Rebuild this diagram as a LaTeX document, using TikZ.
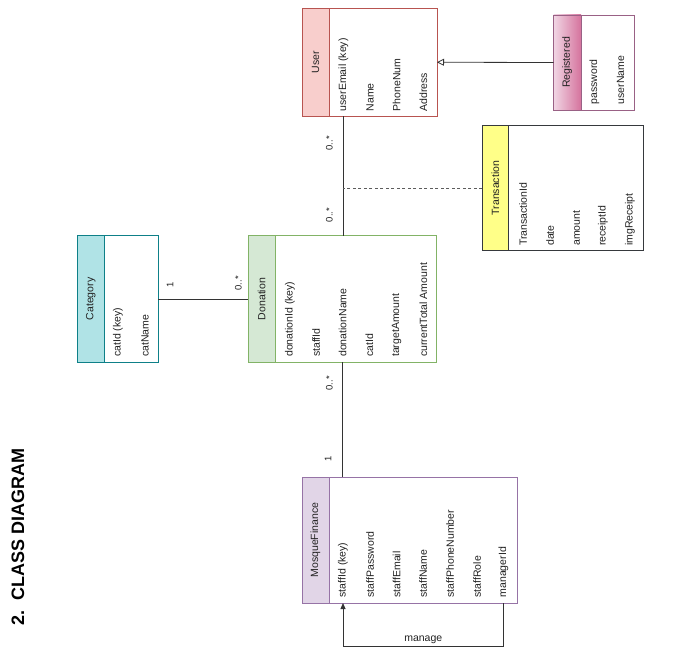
\documentclass[tikz,border=0pt]{standalone}
\usepackage{fontspec}
\setmainfont{Liberation Sans}
\usetikzlibrary{arrows.meta}
\definecolor{uF}{HTML}{F8CECC}\definecolor{uD}{HTML}{B85450}
\definecolor{rL}{HTML}{F0D6E4}\definecolor{rR}{HTML}{D5739D}\definecolor{rD}{HTML}{996185}
\definecolor{tF}{HTML}{FFFF88}\definecolor{tD}{HTML}{36393D}
\definecolor{dF}{HTML}{D5E8D4}\definecolor{dD}{HTML}{82B366}
\definecolor{cF}{HTML}{B0E3E6}\definecolor{cD}{HTML}{0E8088}
\definecolor{mF}{HTML}{E1D5E7}\definecolor{mD}{HTML}{9673A6}
\definecolor{txt}{HTML}{222222}
\definecolor{ln}{HTML}{333333}
\begin{document}
\begin{tikzpicture}[x=1pt,y=-1pt,
  every node/.style={font=\fontsize{10.5}{12}\selectfont, text=txt},
  cls/.style={draw, fill=white, line width=0.8pt, inner sep=0pt, outer sep=0pt, rectangle},
  hdr/.style={draw, line width=0.8pt, inner sep=0pt, outer sep=0pt, rectangle},
  htext/.style={rotate=90, inner sep=0pt},
  attr/.style={rotate=90, anchor=west, inner sep=0pt},
  mult/.style={rotate=90, inner sep=0pt, font=\fontsize{9.5}{11}\selectfont},
  conn/.style={draw=ln, line width=0.8pt}
]
\useasboundingbox (0,0) rectangle (678,661);

% Title
\node[rotate=90, inner sep=0pt, font=\bfseries\fontsize{18}{21}\selectfont, text=black] (title) at (18,537) {2.\hspace{0.6em}CLASS DIAGRAM};

% User
\node[cls, draw=uD, minimum width=135pt, minimum height=108.5pt] (user) at (369.5,62.25) {};
\node[hdr, draw=uD, fill=uF, minimum width=27pt, minimum height=108.5pt] (userH) at (315.5,62.25) {};
\node[htext] (userT) at (userH) {User};
\node[attr] (u1) at (343.3,111.5) {userEmail (key)};
\node[attr] (u2) at (370,111.5) {Name};
\node[attr] (u3) at (396.7,111.5) {PhoneNum};
\node[attr] (u4) at (423.3,111.5) {Address};

% Registered
\node[cls, draw=rD, minimum width=81pt, minimum height=95pt] (reg) at (594,62.5) {};
\node[hdr, draw=rD, left color=rL, right color=rR, minimum width=27.5pt, minimum height=95pt] (regH) at (567.25,62.5) {};
\node[htext] (regT) at (regH) {Registered};
\node[attr] (r1) at (594.5,104.5) {password};
\node[attr] (r2) at (620.5,104.5) {userName};

% Transaction
\node[cls, draw=tD, minimum width=161.5pt, minimum height=125.2pt] (trans) at (562.75,188.1) {};
\node[hdr, draw=tD, fill=tF, minimum width=26.5pt, minimum height=125.2pt] (transH) at (495.25,188.1) {};
\node[htext] (transT) at (transH) {Transaction};
\node[attr] (t1) at (523,246) {TransactionId};
\node[attr] (t2) at (550,246) {date};
\node[attr] (t3) at (576.5,246) {amount};
\node[attr] (t4) at (603,246) {receiptId};
\node[attr] (t5) at (630,246) {imgReceipt};

% Category
\node[cls, draw=cD, minimum width=80.8pt, minimum height=126.6pt] (cat) at (117.9,299) {};
\node[hdr, draw=cD, fill=cF, minimum width=26.8pt, minimum height=126.6pt] (catH) at (90.9,299) {};
\node[htext] (catT) at (catH) {Category};
\node[attr] (c1) at (118,357) {catId (key)};
\node[attr] (c2) at (145,357) {catName};

% Donation
\node[cls, draw=dD, minimum width=188.4pt, minimum height=126.6pt] (don) at (342.5,299) {};
\node[hdr, draw=dD, fill=dF, minimum width=26.7pt, minimum height=126.6pt] (donH) at (261.65,299) {};
\node[htext] (donT) at (donH) {Donation};
\node[attr] (d1) at (290,357) {donationId (key)};
\node[attr] (d2) at (316,357) {staffId};
\node[attr] (d3) at (342.7,357) {donationName};
\node[attr] (d4) at (369.3,357) {catId};
\node[attr] (d5) at (396.7,357) {targetAmount};
\node[attr] (d6) at (423.3,357) {currentTotal Amount};

% MosqueFinance
\node[cls, draw=mD, minimum width=215pt, minimum height=126pt] (mf) at (409.5,540) {};
\node[hdr, draw=mD, fill=mF, minimum width=27pt, minimum height=126pt] (mfH) at (315.5,540) {};
\node[htext] (mfT) at (mfH) {MosqueFinance};
\node[attr] (m1) at (343,597.5) {staffId (key)};
\node[attr] (m2) at (370,597.5) {staffPassword};
\node[attr] (m3) at (396.5,597.5) {staffEmail};
\node[attr] (m4) at (423,597.5) {staffName};
\node[attr] (m5) at (450,597.5) {staffPhoneNumber};
\node[attr] (m6) at (477,597.5) {staffRole};
\node[attr] (m7) at (503.5,597.5) {managerId};

% Connectors
\draw[conn, -{Triangle[open, length=7pt, width=7pt, fill=white]}] (regH.west) -- (user.east);
\draw[conn] (user.south -| u1) -- (don.north -| u1);
\coordinate (tj) at (trans.west -| u1);
\draw[conn, draw=ln!80, dash pattern=on 3pt off 2.5pt] (trans.west) -- (tj);
\draw[conn] (cat.east) -- (don.west);
\draw[conn] (don.south -| d3) -- (mf.north -| d3);
\draw[conn, -{Triangle[length=6pt, width=5pt]}] (mf.south -| m7) -- ++(0,43) -| (mf.south -| m1)
  node[pos=0.25, above=2pt, inner sep=0pt] (manage) {manage};

% Multiplicities
\node[mult] (mu1) at (329.3,143.3) {0..*};
\node[mult] (mu2) at (329.3,215) {0..*};
\node[mult] (mc1) at (170,285) {1};
\node[mult] (mc2) at (238.3,283.3) {0..*};
\node[mult] (md1) at (329.3,383.3) {0..*};
\node[mult] (md2) at (328,459) {1};
\end{tikzpicture}
\end{document}
